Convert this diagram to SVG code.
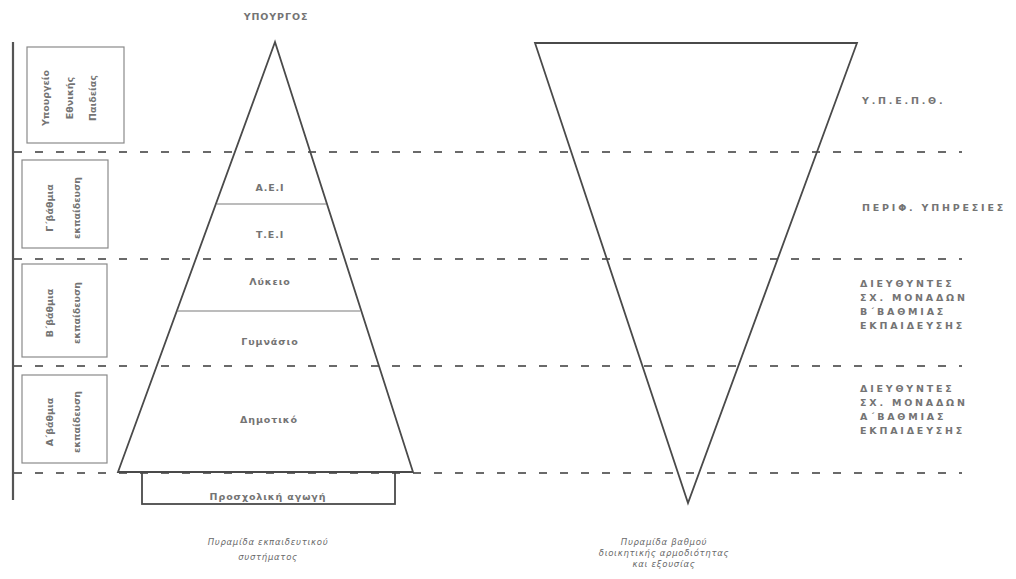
<svg xmlns="http://www.w3.org/2000/svg" width="1016" height="579" viewBox="0 0 1016 579">
<style>
.ln{fill:none;stroke:#4a4a4a;stroke-width:1.8;stroke-linejoin:miter}
.thin{fill:none;stroke:#7a7a7a;stroke-width:1.2}
.box{fill:#fff;stroke:#8a8a8a;stroke-width:1.2}
.dash{fill:none;stroke:#6a6a6a;stroke-width:1.8;stroke-dasharray:8 13}
.t{font-family:"DejaVu Sans","Noto Sans",sans-serif;fill:#747474}
.cap{font-family:"DejaVu Sans","Noto Sans",sans-serif;fill:#6a6a6a;font-style:italic;font-size:8.5px;text-anchor:middle;letter-spacing:0.7px}
.lab{font-size:9.5px;text-anchor:middle;letter-spacing:0.9px;font-weight:bold}
.side{font-size:9.5px;letter-spacing:2.8px;font-weight:bold}
.rot{font-size:9.5px;text-anchor:middle;font-weight:bold}
</style>
<rect width="1016" height="579" fill="#fff"/>
<g id="connectors">
<line class="dash" x1="14" y1="152" x2="962" y2="152"/>
<line class="dash" x1="14" y1="259" x2="962" y2="259"/>
<line class="dash" x1="14" y1="366" x2="962" y2="366"/>
<line class="dash" x1="14" y1="473" x2="962" y2="473"/>
<line x1="13" y1="42" x2="13" y2="500" stroke="#555" stroke-width="2.2"/>
</g>
<g id="left-boxes">
<g id="box-ypourgeio">
<rect class="box" x="27" y="47" width="97" height="96"/>
<text class="t rot" transform="translate(49,98) rotate(-90)">Υπουργείο</text>
<text class="t rot" transform="translate(73,98) rotate(-90)">Εθνικής</text>
<text class="t rot" transform="translate(96,98) rotate(-90)">Παιδείας</text>
</g>
<g id="box-g">
<rect class="box" x="22" y="160" width="86" height="88"/>
<text class="t rot" transform="translate(53,208) rotate(-90)">Γ΄βάθμια</text>
<text class="t rot" transform="translate(80,208) rotate(-90)">εκπαίδευση</text>
</g>
<g id="box-b">
<rect class="box" x="22" y="264" width="85" height="93"/>
<text class="t rot" transform="translate(53,313) rotate(-90)">Β΄βάθμια</text>
<text class="t rot" transform="translate(80,313) rotate(-90)">εκπαίδευση</text>
</g>
<g id="box-a">
<rect class="box" x="22" y="375" width="85" height="88"/>
<text class="t rot" transform="translate(53,422) rotate(-90)">Α΄βάθμια</text>
<text class="t rot" transform="translate(80,422) rotate(-90)">εκπαίδευση</text>
</g>
</g>
<g id="pyramid">
<text class="t lab" x="276" y="20" font-size="8">ΥΠΟΥΡΓΟΣ</text>
<polygon class="ln" points="275,42 118,472 413,472"/>
<line class="thin" x1="217" y1="204" x2="326" y2="204"/>
<line class="thin" x1="177" y1="311" x2="360" y2="311"/>
<rect class="ln" x="142" y="472" width="253" height="32"/>
<text class="t lab" x="270" y="191">Α.Ε.Ι</text>
<text class="t lab" x="270" y="238">Τ.Ε.Ι</text>
<text class="t lab" x="270" y="285">Λύκειο</text>
<text class="t lab" x="270" y="345">Γυμνάσιο</text>
<text class="t lab" x="269" y="423">Δημοτικό</text>
<text class="t lab" x="268" y="500">Προσχολική αγωγή</text>
<text class="cap" x="268" y="545">Πυραμίδα εκπαιδευτικού</text>
<text class="cap" x="268" y="560">συστήματος</text>
</g>
<g id="inverted-pyramid">
<polygon class="ln" points="535,43 857,43 688,503"/>
<text class="cap" x="664" y="545">Πυραμίδα βαθμού</text>
<text class="cap" x="664" y="556">διοικητικής αρμοδιότητας</text>
<text class="cap" x="664" y="567">και εξουσίας</text>
</g>
<g id="right-labels">
<text class="t side" x="862" y="104">Υ.Π.Ε.Π.Θ.</text>
<text class="t side" x="862" y="211">ΠΕΡΙΦ. ΥΠΗΡΕΣΙΕΣ</text>
<text class="t side" x="860" y="287">ΔΙΕΥΘΥΝΤΕΣ</text>
<text class="t side" x="860" y="301">ΣΧ. ΜΟΝΑΔΩΝ</text>
<text class="t side" x="860" y="315">Β΄ΒΑΘΜΙΑΣ</text>
<text class="t side" x="860" y="329">ΕΚΠΑΙΔΕΥΣΗΣ</text>
<text class="t side" x="860" y="392">ΔΙΕΥΘΥΝΤΕΣ</text>
<text class="t side" x="860" y="406">ΣΧ. ΜΟΝΑΔΩΝ</text>
<text class="t side" x="860" y="420">Α΄ΒΑΘΜΙΑΣ</text>
<text class="t side" x="860" y="434">ΕΚΠΑΙΔΕΥΣΗΣ</text>
</g>
</svg>
